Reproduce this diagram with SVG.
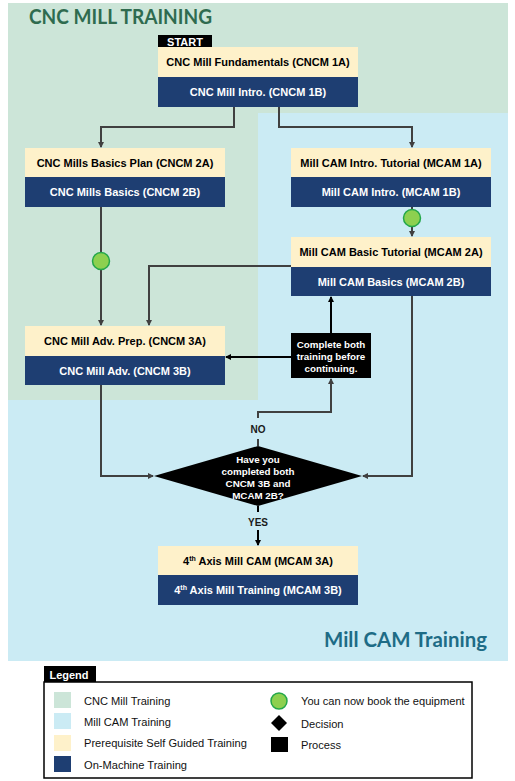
<svg xmlns="http://www.w3.org/2000/svg" width="515" height="781" viewBox="0 0 515 781">
<defs>
<style>
.bt{font-family:"Liberation Sans",Arial,sans-serif;font-weight:bold;font-size:11px;text-anchor:middle;dominant-baseline:central}
.cream{fill:#fef1ca}
.navy{fill:#1e3e72}
.dk{fill:#000}
.wt{fill:#fff}
.ln{fill:none;stroke:#404040;stroke-width:2}
.lb{fill:none;stroke:#000;stroke-width:2}
.pt{font-family:"Liberation Sans",Arial,sans-serif;font-weight:bold;font-size:9.8px;text-anchor:middle;fill:#fff;dominant-baseline:central}
.lab{font-family:"Liberation Sans",Arial,sans-serif;font-weight:bold;font-size:10px;text-anchor:middle;fill:#1a1a1a;dominant-baseline:central}
.lg{font-family:"Liberation Sans",Arial,sans-serif;font-size:11.1px;fill:#111;dominant-baseline:central}
.dot{fill:#8dd04f;stroke:#23a74a;stroke-width:1.5}
.ttl{font-family:Lato,"Open Sans",sans-serif;font-weight:bold;font-size:20px}
</style>
<marker id="ag" viewBox="0 0 6 6" refX="5" refY="3" markerWidth="6" markerHeight="6" markerUnits="userSpaceOnUse" orient="auto"><path d="M0,0 L6,3 L0,6 z" fill="#404040"/></marker>
<marker id="ab" viewBox="0 0 6 6" refX="5" refY="3" markerWidth="6" markerHeight="6" markerUnits="userSpaceOnUse" orient="auto"><path d="M0,0 L6,3 L0,6 z" fill="#000"/></marker>
</defs>
<rect width="515" height="781" fill="#fff"/>
<g id="regions">
<rect x="8" y="3" width="500" height="397" fill="#cce5d8"/>
<path d="M258,113 H508 V661 H8 V400 H258 Z" fill="#cbebf4"/>
<text x="29" y="24" class="ttl" fill="#2f6b4f" textLength="183" lengthAdjust="spacingAndGlyphs">CNC MILL TRAINING</text>
<text x="487" y="647" class="ttl" fill="#1e6c86" text-anchor="end" textLength="163" lengthAdjust="spacingAndGlyphs">Mill CAM Training</text>
</g>
<g id="connectors">
<path class="ln" d="M234,107 V127 H101 V147" marker-end="url(#ag)"/>
<path class="ln" d="M279,107 V127 H412 V147" marker-end="url(#ag)"/>
<path class="ln" d="M101,207 V325" marker-end="url(#ag)"/>
<path class="ln" d="M412,207 V236" marker-end="url(#ag)"/>
<path class="ln" d="M291,266 H149 V325" marker-end="url(#ag)"/>
<path class="ln" d="M101,385 V476 H153" marker-end="url(#ag)"/>
<path class="ln" d="M412,296 V476 H363" marker-end="url(#ag)"/>
<path class="lb" d="M291,357 H226" marker-end="url(#ab)"/>
<path class="lb" d="M331,333 V297" marker-end="url(#ab)"/>
<path class="ln" d="M258,446 V439"/>
<path class="ln" d="M258,418 V412 H331 V379" marker-end="url(#ag)"/>
<path class="lb" d="M258,506 V512"/>
<path class="lb" d="M258,530 V545" marker-end="url(#ab)"/>
<text x="258" y="429" class="lab">NO</text>
<text x="258" y="522" class="lab">YES</text>
</g>
<g id="start">
<rect x="158" y="35" width="54" height="12" class="dk"/>
<text x="185" y="41.5" class="bt wt" font-size="10.5px">START</text>
</g>
<g id="cncm1">
<rect x="158" y="47" width="200" height="30" class="cream"/>
<text x="258" y="62" class="bt">CNC Mill Fundamentals (CNCM 1A)</text>
<rect x="158" y="77" width="200" height="30" class="navy"/>
<text x="258" y="92" class="bt wt">CNC Mill Intro. (CNCM 1B)</text>
</g>
<g id="cncm2">
<rect x="25" y="148" width="200" height="29" class="cream"/>
<text x="125" y="163" class="bt">CNC Mills Basics Plan (CNCM 2A)</text>
<rect x="25" y="177" width="200" height="30" class="navy"/>
<text x="125" y="192" class="bt wt">CNC Mills Basics (CNCM 2B)</text>
</g>
<g id="mcam1">
<rect x="291" y="148" width="200" height="29" class="cream"/>
<text x="391" y="163" class="bt">Mill CAM Intro. Tutorial (MCAM 1A)</text>
<rect x="291" y="177" width="200" height="30" class="navy"/>
<text x="391" y="192" class="bt wt">Mill CAM Intro. (MCAM 1B)</text>
</g>
<g id="mcam2">
<rect x="291" y="237" width="200" height="30" class="cream"/>
<text x="391" y="252" class="bt">Mill CAM Basic Tutorial (MCAM 2A)</text>
<rect x="291" y="267" width="200" height="29" class="navy"/>
<text x="391" y="282" class="bt wt">Mill CAM Basics (MCAM 2B)</text>
</g>
<g id="cncm3">
<rect x="25" y="326" width="200" height="30" class="cream"/>
<text x="125" y="341" class="bt">CNC Mill Adv. Prep. (CNCM 3A)</text>
<rect x="25" y="356" width="200" height="29" class="navy"/>
<text x="125" y="371" class="bt wt">CNC Mill Adv. (CNCM 3B)</text>
</g>
<g id="book1"><circle cx="101" cy="261" r="8.5" class="dot"/></g>
<g id="book2"><circle cx="412" cy="218" r="8.5" class="dot"/></g>
<g id="process">
<rect x="291" y="333" width="80" height="45" class="dk"/>
<text x="331" y="344" class="pt">Complete both</text>
<text x="331" y="356" class="pt">training before</text>
<text x="331" y="368" class="pt">continuing.</text>
</g>
<g id="decision">
<polygon points="258,446 362,476 258,506 154,476" class="dk"/>
<text x="258" y="459" class="pt">Have you</text>
<text x="258" y="471" class="pt">completed both</text>
<text x="258" y="483" class="pt">CNCM 3B and</text>
<text x="258" y="495" class="pt">MCAM 2B?</text>
</g>
<g id="mcam3">
<rect x="158" y="546" width="200" height="29" class="cream"/>
<text x="258" y="561" class="bt">4<tspan font-size="7px" dy="-3">th</tspan><tspan dy="3"> Axis Mill CAM (MCAM 3A)</tspan></text>
<rect x="158" y="575" width="200" height="30" class="navy"/>
<text x="258" y="590" class="bt wt">4<tspan font-size="7px" dy="-3">th</tspan><tspan dy="3"> Axis Mill Training (MCAM 3B)</tspan></text>
</g>
<g id="legend">
<rect x="44" y="666" width="52" height="16" class="dk"/>
<text x="69" y="674.5" class="bt wt" font-size="11.5px">Legend</text>
<rect x="44" y="682" width="428" height="96" fill="#fff" stroke="#000" stroke-width="1.5"/>
<rect x="54" y="692" width="17" height="16" fill="#cce5d8"/>
<text x="84" y="701" class="lg">CNC Mill Training</text>
<rect x="54" y="713" width="17" height="16" fill="#cbebf4"/>
<text x="84" y="722" class="lg">Mill CAM Training</text>
<rect x="54" y="735" width="17" height="16" fill="#fef1ca"/>
<text x="84" y="743" class="lg">Prerequisite Self Guided Training</text>
<rect x="54" y="756" width="17" height="16" fill="#1e3e72"/>
<text x="84" y="765" class="lg">On-Machine Training</text>
<circle cx="279" cy="701" r="8" class="dot"/>
<text x="301" y="701" class="lg">You can now book the equipment</text>
<polygon points="279,715 287,723 279,731 271,723" fill="#000"/>
<text x="301" y="724" class="lg">Decision</text>
<rect x="271" y="737" width="17" height="15" fill="#000"/>
<text x="301" y="745" class="lg">Process</text>
</g>
</svg>
